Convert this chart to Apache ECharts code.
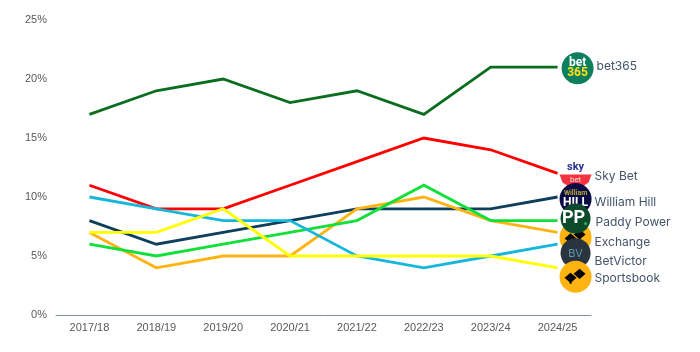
<!DOCTYPE html>
<html>
<head>
<meta charset="utf-8">
<style>
  html, body { margin: 0; padding: 0; background: #fff; }
  #chart { width: 700px; height: 352px; }
</style>
<script src="https://cdn.jsdelivr.net/npm/echarts@6/dist/echarts.min.js"></script>
</head>
<body>
<div id="chart"></div>
<script>
const seasons = ['2017/18', '2018/19', '2019/20', '2020/21', '2021/22', '2022/23', '2023/24', '2024/25'];
const yTicks = [0, 5, 10, 15, 20, 25];

const bet365 = [17, 19, 20, 18, 19, 17, 21, 21];
const skyBet = [11, 9, 9, 11, 13, 15, 14, 12];
const williamHill = [8, 6, 7, 8, 9, 9, 9, 10];
const paddyPower = [6, 5, 6, 7, 8, 11, 8, 8];
const exchange = [7, 4, 5, 5, 9, 10, 8, 7];
const betVictor = [10, 9, 8, 8, 5, 4, 5, 6];
const sportsbook = [7, 7, 9, 5, 5, 5, 5, 4];

const font = 'Inter, "Noto Sans", sans-serif';
const labelColor = '#44546a';

// drawn in this order, later logos sit on top of earlier ones
const brands = [
  { name: 'bet365', values: bet365, color: '#0b6e1f', logo: 'bet365', dx: 20, dy: 1, lx: 39, ly: -1 },
  { name: 'Sky Bet', values: skyBet, color: '#ff0000', logo: 'sky', dx: 18, dy: 3, lx: 37, ly: 3 },
  { name: 'William Hill', values: williamHill, color: '#0e3f5c', logo: 'hill', dx: 18, dy: 2, lx: 37, ly: 5 },
  { name: 'Exchange', values: exchange, color: '#ffb310', logo: 'spade', dx: 18, dy: 5, lx: 37, ly: 10 },
  { name: 'Paddy Power', values: paddyPower, color: '#12e03a', logo: 'pp', dx: 18, dy: -2, lx: 38, ly: 2 },
  { name: 'BetVictor', values: betVictor, color: '#17b7dc', logo: 'bv', dx: 18, dy: 9, lx: 37, ly: 17 },
  { name: 'Sportsbook', values: sportsbook, color: '#ffff00', logo: 'spade', dx: 18, dy: 9, lx: 37, ly: 11 }
];

function txt(x, y, text, size, fill, weight, family) {
  return {
    type: 'text',
    style: {
      x: x, y: y, text: text, fill: fill, fontSize: size, fontWeight: weight || 'normal',
      fontFamily: family || font, align: 'center', verticalAlign: 'middle'
    }
  };
}

function disc(r, fill) {
  return { type: 'circle', shape: { cx: 0, cy: 0, r: r }, style: { fill: fill } };
}

function diamond(cx, cy, s) {
  return {
    type: 'polygon',
    shape: { points: [[cx - s, cy], [cx, cy - s * 0.85], [cx + s, cy], [cx, cy + s * 0.85]] },
    style: { fill: '#000' }
  };
}

function logoParts(kind) {
  if (kind === 'bet365') {
    return [disc(16, '#0d7f5c'),
      txt(0, -5, 'bet', 12, '#fff', 'bold', 'Roboto'),
      txt(0, 5, '365', 12, '#ffe01a', 'bold', 'Roboto')];
  }
  if (kind === 'sky') {
    return [
      txt(0, -9, 'sky', 11, '#27358f', 'bold', 'Roboto'),
      { type: 'polygon', shape: { points: [[-16, -2], [16, -2], [13, 6], [7, 10], [-7, 10], [-13, 6]] }, style: { fill: '#f5333f' } },
      txt(0, 4, 'bet', 8, '#ffd9d9', 'normal', 'Roboto')
    ];
  }
  if (kind === 'hill') {
    return [disc(16, '#0a0a45'),
      txt(0, -6, 'William', 7, '#b6a83a', 'bold', 'Roboto'),
      txt(0, 4, 'HILL', 12, '#fff', 'bold', 'Roboto')];
  }
  if (kind === 'pp') {
    return [disc(15, '#0c4a2c'),
      txt(-2, 0, 'PP', 18, '#fff', 'bold', 'Roboto'),
      { type: 'circle', shape: { cx: 10, cy: 5, r: 1.5 }, style: { fill: '#35b44a' } }];
  }
  if (kind === 'bv') {
    return [disc(15, '#2a343e'), txt(0, 0, 'BV', 11, '#5b95b0')];
  }
  return [disc(16, '#ffb310'), diamond(-5, 1, 6), diamond(4, -3, 6), { type: 'rect', shape: { x: -6, y: 2, width: 2, height: 5 }, style: { fill: '#000' } }];
}

const lineSeries = brands.map(function (b) {
  return {
    name: b.name,
    type: 'line',
    data: b.values,
    symbol: 'none',
    z: 2,
    lineStyle: { color: b.color, width: 2.8, join: 'miter' }
  };
});

const logoSeries = {
  type: 'custom',
  z: 5,
  silent: true,
  data: brands.map(function (b, i) { return [seasons.length - 1, b.values[b.values.length - 1], i]; }),
  renderItem: function (params, api) {
    const b = brands[api.value(2)];
    const p = api.coord([api.value(0), api.value(1)]);
    return {
      type: 'group',
      children: [
        { type: 'group', x: p[0] + b.dx, y: p[1] + b.dy, children: logoParts(b.logo) },
        {
          type: 'text',
          style: {
            x: p[0] + b.lx, y: p[1] + b.ly, text: b.name, fill: labelColor, fontSize: 12,
            fontFamily: font, align: 'left', verticalAlign: 'middle'
          }
        }
      ]
    };
  }
};

const chart = echarts.init(document.getElementById('chart'));
chart.setOption({
  animation: false,
  grid: { left: 56, right: 109, top: 20, bottom: 37 },
  xAxis: {
    type: 'category',
    data: seasons,
    boundaryGap: true,
    axisTick: { show: false },
    axisLine: { lineStyle: { color: '#7f93a8', width: 1 } },
    axisLabel: { color: '#595959', fontSize: 11, fontFamily: 'Liberation Sans', margin: 7 }
  },
  yAxis: {
    type: 'value',
    min: yTicks[0],
    max: yTicks[yTicks.length - 1],
    interval: yTicks[1] - yTicks[0],
    splitLine: { show: false },
    axisLine: { show: false },
    axisTick: { show: false },
    axisLabel: { color: '#595959', fontSize: 11, fontFamily: 'Liberation Sans', margin: 9, formatter: '{value}%' }
  },
  series: lineSeries.concat([logoSeries])
});
</script>
</body>
</html>
